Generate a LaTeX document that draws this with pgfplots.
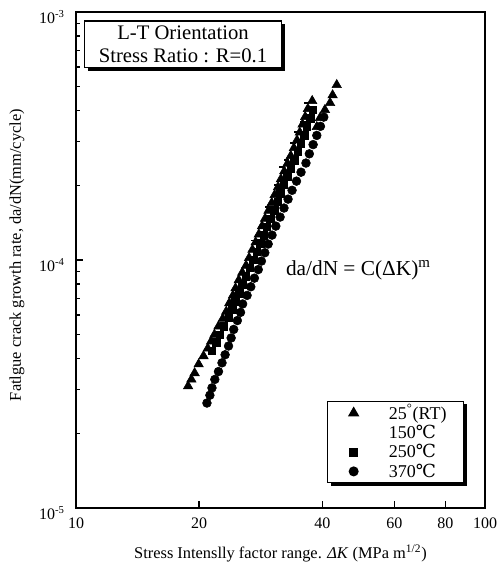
\documentclass[border=0pt]{standalone}
\usepackage{fontspec}
\setmainfont{Liberation Serif}
\newfontfamily\degfont{DejaVu Serif}
\usepackage{pgfplots}
\pgfplotsset{compat=1.18}
\usetikzlibrary{shadows}
\newcommand{\degC}{{\degfont ℃}}
\newcommand{\legtxt}[1]{\makebox[50pt][l]{#1}}
\begin{document}
\begin{tikzpicture}
\useasboundingbox (-57pt,-44.25pt) rectangle (319.5pt,381pt);
\begin{axis}[
  at={(0,0)}, anchor=south west,
  scale only axis, width=306.75pt, height=372pt,
  xmode=log, ymode=log,
  xmin=10, xmax=100, ymin=1e-5, ymax=1e-3,
  xtick={10,20,40,60,80,100},
  xticklabels={10,20,40,60,80,100},
  xminorticks=false,
  ytick={1e-5,1e-4,1e-3},
  yticklabels={10\textsuperscript{-5},10\textsuperscript{-4},10\textsuperscript{-3}},
  xtick pos=bottom, ytick pos=left,
  tick align=inside,
  major tick length=5pt, minor tick length=3pt,
  axis line style={line width=1.3pt},
  every tick/.style={black, line width=1pt},
  ticklabel style={font=\fontsize{12}{14}\selectfont},
  xticklabel style={yshift=-4pt},
  yticklabel style={yshift=-4pt, xshift=-5pt},
  xlabel={Stress Intenslly factor range. \textit{ΔK} (MPa m\textsuperscript{1/2})},
  ylabel={Fatlgue crack growth rate, da/dN(mm/cycle)},
  xlabel style={at={(axis description cs:0.5,-0.091)}, anchor=center, font=\fontsize{12.3}{14}\selectfont},
  ylabel style={at={(axis description cs:-0.1443,0.51)}, anchor=center, font=\fontsize{12.3}{14}\selectfont},
  legend image code/.code={\path (-15pt,0pt) (24pt,0pt); \draw[#1] plot coordinates {(0pt,0pt)};},
  legend style={at={(axis description cs:0.614,0.0504)}, anchor=south west,
    draw=black, line width=0.9pt, fill=white,
    drop shadow={shadow xshift=2.5pt, shadow yshift=-2.5pt, opacity=1, fill=black},
    inner xsep=4pt, inner ysep=0.5pt, row sep=-1.2pt,
    font=\fontsize{13.5}{15}\selectfont, cells={anchor=west}},
]
\addplot[only marks, mark=triangle*, mark size=4.1pt, black] coordinates {
(18.8,3.1e-5) (19.15,3.3e-5) (19.5,3.5e-5) (19.95,3.8e-5) (20.5,4.1e-5) (21.0,4.4e-5)
(21.4,4.7e-5) (21.8,5.0e-5) (22.3,5.4e-5) (22.85,5.8e-5) (23.3,6.2e-5) (23.7,6.7e-5)
(24.2,7.2e-5) (24.55,7.7e-5) (25.0,8.3e-5) (25.5,8.9e-5) (26.05,9.5e-5) (26.5,1.02e-4)
(27.0,1.10e-4) (27.5,1.18e-4) (28.0,1.27e-4) (28.5,1.37e-4) (29.0,1.47e-4) (29.55,1.58e-4)
(30.1,1.70e-4) (30.6,1.83e-4) (31.2,1.97e-4) (31.7,2.12e-4) (32.3,2.28e-4) (32.9,2.45e-4)
(33.5,2.63e-4) (34.1,2.83e-4) (34.7,3.04e-4) (35.25,3.27e-4) (35.8,3.52e-4) (36.35,3.78e-4)
(36.9,4.07e-4) (37.8,4.38e-4) (38.8,3.44e-4) (39.5,3.74e-4) (40.6,4.03e-4) (41.8,4.30e-4)
(42.4,4.62e-4) (43.4,5.08e-4)
};
\addlegendentry{\legtxt{25\textsuperscript{°}(RT)}}
\addlegendimage{empty legend}
\addlegendentry{\legtxt{150\degC}}
\addplot[only marks, mark=square*, mark size=2.8pt, black] coordinates {
(21.45,4.3e-5) (22.0,4.65e-5) (22.45,5.0e-5) (22.95,5.4e-5) (23.6,5.85e-5) (24.1,6.3e-5)
(24.5,6.8e-5) (25.05,7.35e-5) (25.5,7.95e-5) (26.0,8.6e-5) (26.6,9.3e-5) (27.15,1.0e-4)
(27.7,1.08e-4) (28.25,1.17e-4) (28.8,1.26e-4) (29.3,1.36e-4) (29.85,1.47e-4) (30.5,1.59e-4)
(31.1,1.72e-4) (31.6,1.86e-4) (32.25,2.01e-4) (32.85,2.17e-4) (33.5,2.34e-4) (34.2,2.53e-4)
(34.8,2.73e-4) (35.5,2.95e-4) (36.15,3.19e-4) (36.7,3.45e-4) (37.35,3.73e-4) (37.9,4.03e-4)
};
\addlegendentry{\legtxt{250\degC}}
\addplot[only marks, mark=*, mark size=3.3pt, black] coordinates {
(20.9,2.65e-5) (21.25,2.85e-5) (21.5,3.05e-5) (21.85,3.3e-5) (22.3,3.55e-5) (22.75,3.85e-5)
(23.15,4.15e-5) (23.6,4.5e-5) (23.95,4.85e-5) (24.3,5.25e-5) (24.8,5.7e-5) (25.25,6.15e-5)
(25.55,6.65e-5) (26.2,7.2e-5) (26.75,7.8e-5) (27.3,8.45e-5) (27.9,9.15e-5) (28.4,9.9e-5)
(28.95,1.07e-4) (29.5,1.16e-4) (30.15,1.26e-4) (30.8,1.37e-4) (31.55,1.49e-4) (32.25,1.62e-4)
(33.0,1.76e-4) (33.75,1.91e-4) (34.6,2.08e-4) (35.5,2.26e-4) (36.5,2.46e-4) (37.2,2.68e-4)
(38.0,2.92e-4) (38.8,3.18e-4) (39.6,3.46e-4) (40.35,3.77e-4)
};
\addlegendentry{\legtxt{370\degC}}
\addplot[only marks, mark=-, mark size=2pt, line width=1.2pt, black, forget plot] coordinates {
(27.25,1.20e-4) (28.5,1.38e-4) (29.5,1.64e-4) (30.95,2.01e-4) (31.85,2.37e-4) (32.75,2.53e-4)
(33.9,2.96e-4) (34.65,3.28e-4) (35.9,3.60e-4) (36.65,4.30e-4)
};
\node[draw, line width=1pt, fill=white,
  drop shadow={shadow xshift=2.5pt, shadow yshift=-2.5pt, opacity=1, fill=black},
  align=center, font=\fontsize{15.5}{17}\selectfont,
  minimum width=147.75pt, minimum height=35pt, inner sep=1pt]
  at (axis description cs:0.2616,0.935) {L-T Orientation\\Stress Ratio : R=0.1};
\node[anchor=west, font=\fontsize{16}{18}\selectfont]
  at (axis description cs:0.502,0.48) {da/dN = C(ΔK)\textsuperscript{m}};
\end{axis}
\end{tikzpicture}
\end{document}
